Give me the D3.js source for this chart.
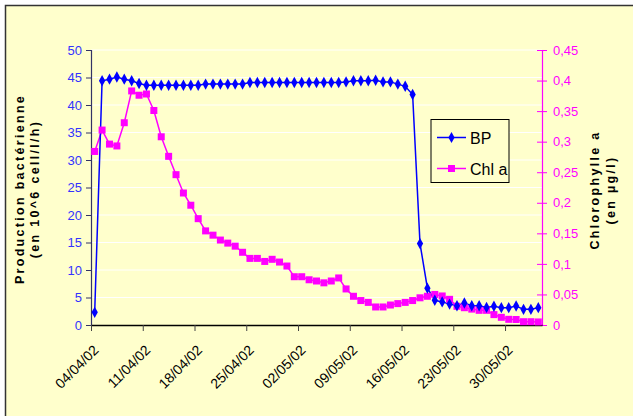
<!DOCTYPE html>
<html><head><meta charset="utf-8">
<script src="https://cdn.jsdelivr.net/npm/d3@7"></script>
<style>
html,body{margin:0;padding:0;background:#fff;}
text{font-family:"Liberation Sans",Arial,sans-serif;}
</style></head>
<body><svg id="c" width="633" height="416"></svg>
<script>
const startDate = "2002-04-04";
const endDate = "2002-06-04";
const tickLabels = ["04/04/02","11/04/02","18/04/02","25/04/02","02/05/02","09/05/02","16/05/02","23/05/02","30/05/02"];
const bpValues = [2.3,44.4,44.7,45.1,44.7,44.4,43.9,43.6,43.6,43.6,
  43.6,43.6,43.6,43.6,43.6,43.8,43.8,43.8,43.8,43.8,
  43.8,44.1,44.1,44.1,44.1,44.1,44.1,44.1,44.1,44.1,
  44.1,44.1,44.1,44.1,44.2,44.4,44.4,44.4,44.5,44.2,
  44.2,43.8,43.4,41.9,14.8,6.7,4.5,4.2,3.8,3.5,
  4.0,3.5,3.5,3.2,3.4,3.15,3.15,3.45,2.85,2.85,3.15];
const chlValues = [0.284,0.319,0.296,0.293,0.331,0.383,0.376,0.378,0.351,0.308,
  0.276,0.246,0.216,0.196,0.174,0.154,0.147,0.139,0.134,0.129,
  0.119,0.109,0.109,0.104,0.1075,0.103,0.0965,0.079,0.079,0.074,
  0.072,0.069,0.072,0.077,0.059,0.047,0.040,0.037,0.0295,0.0295,
  0.0327,0.035,0.037,0.040,0.0445,0.047,0.050,0.0475,0.042,0.0306,
  0.0283,0.026,0.024,0.024,0.017,0.0126,0.0093,0.009,0.0054,0.0054,0.005];
const leftTicks = [0,5,10,15,20,25,30,35,40,45,50];
const rightTicks = [0,0.05,0.1,0.15,0.2,0.25,0.3,0.35,0.4,0.45];
const seriesNames = ["BP","Chl a"];

const svg = d3.select("#c");
const parse = d3.utcParse("%Y-%m-%d");
const fmt = d3.utcFormat("%d/%m/%y");
const d0 = parse(startDate), d1 = parse(endDate);
const days = d3.utcDay.range(d0, d1);
const mid = d => d3.utcHour.offset(d, 12);

const L = 91, R = 542, T = 50, B = 325;
const x = d3.scaleUtc().domain([d0, d1]).range([L, R]);
const yL = d3.scaleLinear().domain([0, 50]).range([B, T]);
const yR = d3.scaleLinear().domain([0, 0.45]).range([B, T]);

// background + frame
svg.append("rect").attr("x",5.5).attr("y",5.5).attr("width",640).attr("height",420)
  .attr("fill","#FFFFCC").attr("stroke","#333").attr("stroke-width",1.5);

// gridlines
svg.append("g").selectAll("line").data(leftTicks.slice(1)).join("line")
  .attr("x1",L).attr("x2",R).attr("y1",d=>yL(d)).attr("y2",d=>yL(d))
  .attr("stroke","#fff").attr("stroke-width",1);

const blue = "#0000FF", mag = "#FF00FF";

// left axis
const gL = svg.append("g").attr("transform",`translate(${L},0)`)
  .call(d3.axisLeft(yL).tickValues(leftTicks).tickSize(5).tickPadding(4).tickFormat(d3.format("d")));
gL.select(".domain").attr("stroke","#333366").attr("stroke-width",1.2);
gL.selectAll(".tick line").attr("stroke","#333366");
gL.selectAll("text").attr("fill","#3333FF").style("font-size","13px").style("font-family","Liberation Sans, Arial, sans-serif");

// right axis
const gR = svg.append("g").attr("transform",`translate(${R},0)`)
  .call(d3.axisRight(yR).tickValues(rightTicks).tickSizeInner(5).tickSizeOuter(0).tickPadding(6)
    .tickFormat(d => d === 0 ? "0" : d3.format(".2~f")(d).replace(".", ",")));
gR.select(".domain").attr("stroke",mag).attr("stroke-width",1.2);
gR.selectAll(".tick line").attr("stroke",mag).attr("x1",-5);
gR.selectAll("text").attr("fill",mag).style("font-size","13px").style("font-family","Liberation Sans, Arial, sans-serif");

// bottom axis
const tickDates = tickLabels.map(s => d3.utcParse("%d/%m/%y")(s));
const gB = svg.append("g").attr("transform",`translate(0,${B})`)
  .call(d3.axisBottom(x).tickValues(tickDates).tickSizeInner(6).tickSizeOuter(0).tickFormat(fmt));
gB.select(".domain").attr("stroke","#000").attr("stroke-width",1.5);
gB.selectAll(".tick line").attr("stroke","#444");
gB.selectAll("text").attr("fill","#000").style("font-size","14px")
  .style("font-family","Liberation Sans, Arial, sans-serif")
  .attr("text-anchor","end").attr("dy",null).attr("y",0)
  .attr("transform","translate(8,26) rotate(-45)");

// lines
const bpData = days.map((d,i)=>({d:mid(d), v:bpValues[i]}));
const chlData = days.map((d,i)=>({d:mid(d), v:chlValues[i]}));
svg.append("path").datum(chlData)
  .attr("d", d3.line().x(p=>x(p.d)).y(p=>yR(p.v)))
  .attr("fill","none").attr("stroke",mag).attr("stroke-width",1.5);
svg.append("path").datum(bpData)
  .attr("d", d3.line().x(p=>x(p.d)).y(p=>yL(p.v)))
  .attr("fill","none").attr("stroke",blue).attr("stroke-width",1.5);

const diamond = d3.symbol().type(d3.symbolDiamond).size(34);
svg.append("g").selectAll("rect").data(chlData).join("rect")
  .attr("x",p=>x(p.d)-3.5).attr("y",p=>yR(p.v)-3.5).attr("width",7).attr("height",7).attr("fill",mag);
svg.append("g").selectAll("path").data(bpData).join("path")
  .attr("d",diamond).attr("transform",p=>`translate(${x(p.d)},${yL(p.v)}) scale(1,1.05)`).attr("fill",blue);

// axis titles
const lt = svg.append("text").attr("transform","translate(24,189) rotate(-90)")
  .attr("text-anchor","middle").style("font-weight","bold").style("font-size","12.5px")
  .style("letter-spacing","2.3px").attr("fill","#000");
lt.append("tspan").attr("x",0).attr("dy",0).text("Production bactérienne");
lt.append("tspan").attr("x",0).attr("dy",15).text("(en 10^6 cell/l/h)");

const rt = svg.append("text").attr("transform","translate(599,190) rotate(-90)")
  .attr("text-anchor","middle").style("font-weight","bold").style("font-size","12.5px")
  .style("letter-spacing","2.3px").attr("fill","#000");
rt.append("tspan").attr("x",0).attr("dy",0).text("Chlorophylle a");
rt.append("tspan").attr("x",0).attr("dy",16).text("(en µg/l)");

// legend
const lg = svg.append("g").attr("transform","translate(431,119.5)");
lg.append("rect").attr("width",78).attr("height",63).attr("fill","#FFFFCC").attr("stroke","#000").attr("stroke-width",1);
const items = [{n:seriesNames[0], c:blue, s:"d"},{n:seriesNames[1], c:mag, s:"r"}];
items.forEach((it,i)=>{
  const yy = 18 + i*31;
  lg.append("line").attr("x1",6).attr("x2",35).attr("y1",yy).attr("y2",yy).attr("stroke",it.c).attr("stroke-width",1.5);
  if (it.s==="d") lg.append("path").attr("d",diamond).attr("transform",`translate(20.5,${yy})`).attr("fill",it.c);
  else lg.append("rect").attr("x",17).attr("y",yy-3.5).attr("width",7).attr("height",7).attr("fill",it.c);
  lg.append("text").attr("x",39).attr("y",yy+6).style("font-size","16px").attr("fill","#000").text(it.n);
});
</script></body></html>
